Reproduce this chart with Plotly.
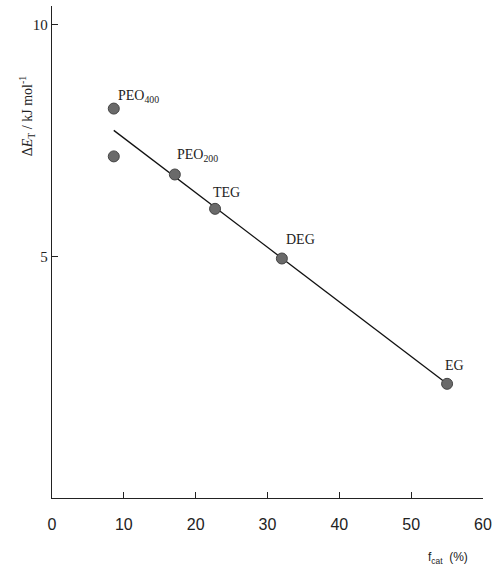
import plotly.graph_objects as go

# data
names = ["PEO<sub>400</sub>", "", "PEO<sub>200</sub>", "TEG", "DEG", "EG"]
f_cat = [8.6, 8.6, 17.1, 22.7, 32.0, 55.0]
dE = [8.19, 7.16, 6.77, 6.03, 4.96, 2.26]
fit_x = [8.6, 55.0]
fit_y = [7.72, 2.26]
label_dx = [3.5, 0, 3.2, 1.6, 2.6, 1.0]
label_dy = [0.27, 0, 0.4, 0.35, 0.4, 0.4]

fig = go.Figure()
fig.add_trace(go.Scatter(x=fit_x, y=fit_y, mode="lines",
                         line=dict(color="#111", width=1.3), showlegend=False))
fig.add_trace(go.Scatter(x=f_cat, y=dE, mode="markers",
                         marker=dict(size=11, color="#6a6a6a",
                                     line=dict(color="#444", width=1)),
                         showlegend=False))
for n, x, y, dx, dy in zip(names, f_cat, dE, label_dx, label_dy):
    if n:
        fig.add_annotation(x=x + dx, y=y + dy, text=n, showarrow=False,
                           font=dict(family="Liberation Serif", size=14, color="#222"))

fig.update_layout(
    width=502, height=566, plot_bgcolor="white", paper_bgcolor="white",
    margin=dict(l=52, r=19, t=6, b=68),
    xaxis=dict(range=[0, 60], tickvals=[0, 10, 20, 30, 40, 50, 60],
               showline=True, linecolor="#222", linewidth=1.3,
               ticks="inside", ticklen=6, tickcolor="#222",
               showgrid=False, zeroline=False, ticklabelstandoff=12,
               tickfont=dict(family="Liberation Sans", size=16, color="#222")),
    yaxis=dict(range=[-0.2, 10.4], tickvals=[5, 10],
               showline=True, linecolor="#222", linewidth=1.3,
               ticks="inside", ticklen=6, tickcolor="#222",
               showgrid=False, zeroline=False,
               tickfont=dict(family="Liberation Serif", size=15, color="#222")),
)
fig.add_annotation(xref="paper", yref="paper", x=-0.058, y=0.776,
                   xanchor="center", yanchor="middle",
                   text="Δ<i>E</i><sub>T</sub> / kJ mol<sup>-1</sup>", textangle=-90,
                   showarrow=False, font=dict(family="Liberation Serif", size=14, color="#222"))
fig.add_annotation(xref="paper", yref="paper", x=0.97, y=-0.122,
                   xanchor="right", yanchor="middle",
                   text="f<sub>cat</sub>  (%)", showarrow=False,
                   font=dict(family="Liberation Sans", size=12, color="#222"))
fig.write_html("out.html")
